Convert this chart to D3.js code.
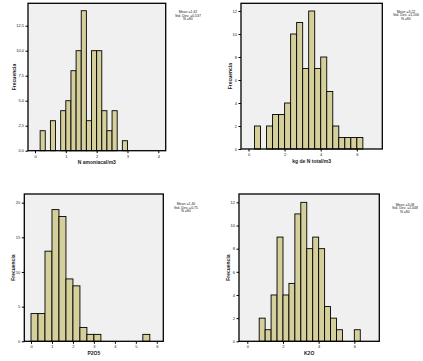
<!DOCTYPE html>
<html>
<head>
<meta charset="utf-8">
<script src="https://cdn.jsdelivr.net/npm/d3@7"></script>
<style>
  html, body { margin: 0; padding: 0; background: #fff; }
  svg { display: block; font-family: "Liberation Sans", Arial, sans-serif; }
</style>
</head>
<body>
<svg id="chart" width="423" height="361"></svg>
<script>
// ---- Datos (frecuencias por intervalo, N = 80)
const amonX0 = [1/6, 3/6, 5/6, 1, 7/6, 8/6, 9/6, 10/6, 11/6, 2, 13/6, 14/6, 15/6, 17/6];
const amonCounts = [2, 3, 4, 5, 8, 10, 14, 3, 10, 10, 4, 2, 4, 1];

const ntotX0 = [1/3, 1, 4/3, 5/3, 2, 7/3, 8/3, 3, 10/3, 11/3, 4, 13/3, 14/3, 5, 16/3, 17/3, 6];
const ntotCounts = [2, 2, 3, 3, 4, 10, 11, 7, 12, 7, 8, 5, 2, 1, 1, 1, 1];

const p2o5X0 = [0, 1/3, 2/3, 1, 4/3, 5/3, 2, 7/3, 8/3, 3, 16/3];
const p2o5Counts = [4, 4, 13, 19, 18, 9, 8, 2, 1, 1, 1];

const k2oX0 = [2/3, 1, 4/3, 5/3, 2, 7/3, 8/3, 3, 10/3, 11/3, 4, 13/3, 14/3, 5, 6];
const k2oCounts = [2, 1, 4, 9, 4, 5, 11, 12, 8, 9, 8, 3, 2, 1, 1];

const amonTicksX = [0, 1, 2, 3, 4];
const amonTicksY = [0, 2.5, 5, 7.5, 10, 12.5];
const ntotTicksX = [0, 2, 4, 6];
const ntotTicksY = [0, 2, 4, 6, 8, 10, 12];
const p2o5TicksX = [0, 1, 2, 3, 4, 5, 6];
const p2o5TicksY = [0, 5, 10, 15, 20];
const k2oTicksX = [0, 2, 4, 6];
const k2oTicksY = [0, 2, 4, 6, 8, 10, 12];

const titles = ['N amoniacal/m3', 'kg de N total/m3', 'P2O5', 'K2O'];
const stats = [
    ['Mean =1,62', 'Std. Dev. =0,537', 'N =80'],
    ['Mean =3,22', 'Std. Dev. =1,106', 'N =80'],
    ['Mean =1,40', 'Std. Dev. =0,75', 'N =80'],
    ['Mean =3,08', 'Std. Dev. =1,048', 'N =80']
];

const panels = [
    { x0: amonX0, counts: amonCounts, bw: 1/6, tx: amonTicksX, ty: amonTicksY,
      box: [28, 3.3, 165.7, 150.7], xd: [-0.227, 4.24], yd: [0, 14.74],
      fmt: d => d3.format('.1f')(d).replace('.', ','), yLab: 14.7, stat: [188, 12] },
    { x0: ntotX0, counts: ntotCounts, bw: 1/3, tx: ntotTicksX, ty: ntotTicksY,
      box: [241, 3.3, 382.3, 149], xd: [-0.415, 7.41], yd: [0, 12.67],
      fmt: d => d, yLab: 230, stat: [406, 11.7] },
    { x0: p2o5X0, counts: p2o5Counts, bw: 1/3, tx: p2o5TicksX, ty: p2o5TicksY,
      box: [24.3, 194, 163.3, 341.3], xd: [-0.32, 6.31], yd: [0, 21.25],
      fmt: d => d, yLab: 13.3, stat: [186, 204] },
    { x0: k2oX0, counts: k2oCounts, bw: 1/3, tx: k2oTicksX, ty: k2oTicksY,
      box: [239, 194, 379.3, 341.3], xd: [-0.466, 7.40], yd: [0, 12.72],
      fmt: d => d, yLab: 228.3, stat: [405, 204.7] }
];

const svg = d3.select('#chart');

panels.forEach((p, i) => {
    const [l, t, r, b] = p.box;
    const x = d3.scaleLinear().domain(p.xd).range([l, r]);
    const y = d3.scaleLinear().domain(p.yd).range([b, t]);
    const g = svg.append('g');

    // fondo del área de gráfico
    g.append('rect')
        .attr('x', l).attr('y', t)
        .attr('width', r - l).attr('height', b - t)
        .attr('fill', '#f0f0f0');

    const data = p.x0.map((d, j) => ({ x0: d, x1: d + p.bw, n: p.counts[j] }));

    g.selectAll('rect.bar')
        .data(data).join('rect')
        .attr('class', 'bar')
        .attr('x', d => x(d.x0))
        .attr('y', d => y(d.n))
        .attr('width', d => x(d.x1) - x(d.x0))
        .attr('height', d => y(0) - y(d.n))
        .attr('fill', '#d5cf9c')
        .attr('stroke', '#000')
        .attr('stroke-width', 0.9);

    // marco
    g.append('rect')
        .attr('x', l).attr('y', t)
        .attr('width', r - l).attr('height', b - t)
        .attr('fill', 'none')
        .attr('stroke', '#000')
        .attr('stroke-width', 1.3);

    g.append('g')
        .attr('transform', `translate(0,${b})`)
        .call(d3.axisBottom(x).tickValues(p.tx).tickFormat(d => d).tickSize(2.5).tickPadding(1.5))
        .call(a => a.select('.domain').remove())
        .call(a => a.selectAll('text').attr('font-size', '4px').attr('font-family', null).attr('fill', '#222'));

    g.append('g')
        .attr('transform', `translate(${l},0)`)
        .call(d3.axisLeft(y).tickValues(p.ty).tickFormat(p.fmt).tickSize(2.5).tickPadding(1.5))
        .call(a => a.select('.domain').remove())
        .call(a => a.selectAll('text').attr('font-size', '4px').attr('font-family', null).attr('fill', '#222'));

    g.append('text')
        .attr('x', (l + r) / 2).attr('y', b + 13.5)
        .attr('text-anchor', 'middle')
        .attr('font-size', '5px').attr('font-weight', 'bold')
        .attr('fill', '#222')
        .text(titles[i]);

    g.append('text')
        .attr('transform', `translate(${p.yLab},${(t + b) / 2}) rotate(-90)`)
        .attr('text-anchor', 'middle')
        .attr('dy', '0.35em')
        .attr('font-size', '5px').attr('font-weight', 'bold')
        .attr('fill', '#222')
        .text('Frecuencia');

    g.append('g').selectAll('text')
        .data(stats[i]).join('text')
        .attr('x', p.stat[0])
        .attr('y', (d, j) => p.stat[1] + j * 3.4)
        .attr('text-anchor', 'middle')
        .attr('dy', '0.35em')
        .attr('font-size', '3.5px')
        .attr('fill', '#222')
        .text(d => d);
});
</script>
</body>
</html>
